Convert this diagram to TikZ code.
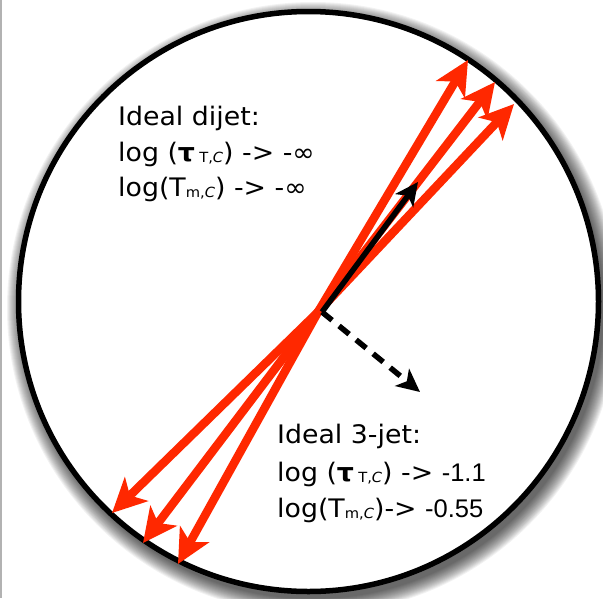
\documentclass[tikz,border=0pt]{standalone}
\usepackage{fontspec}
\setmainfont{DejaVu Sans}[FakeStretch=1.05]
\newfontfamily\helv{Liberation Sans}
\usetikzlibrary{arrows.meta}
\definecolor{jetred}{RGB}{255,40,0}
\tikzset{
  jet/.style={draw=jetred, line width=8.5pt, -{Stealth[length=34pt,width=33pt,inset=9pt]}},
  axis/.style={draw=black, line width=5.5pt, -{Stealth[length=23pt,width=22pt,inset=6pt]}},
  lbl/.style={anchor=base west, inner sep=0pt, font=\fontsize{25.5}{30}\selectfont},
}
\newcommand{\subsc}[1]{\raisebox{-1.5pt}{\fontsize{14}{14}\selectfont #1}}
\begin{document}
\begin{tikzpicture}[x=1pt,y=-1pt]
\useasboundingbox (0,0) rectangle (603,598);
\clip (0,0) rectangle (603,598);
\fill[white] (0,0) rectangle (603,598);
\draw[gray!60, line width=1.5pt] (1,0) -- (1,598);
% shadow
\foreach \i in {1,...,16}
  \fill[black, opacity=0.05] (313,308) circle[radius=290+17-\i];
% circle
\fill[white] (308.5,301.5) circle[radius=290];
\draw[black, line width=5.5pt] (308.5,301.5) circle[radius=290];
% jets
\coordinate (o) at (318,312);
\coordinate (u1) at (468,60);
\coordinate (u2) at (495,82);
\coordinate (u3) at (514,104);
\coordinate (d1) at (112,513);
\coordinate (d2) at (143,543);
\coordinate (d3) at (178,564);
\foreach \t in {u1,u2,u3,d1,d2,d3}
  \draw[jet] (o) -- (\t);
\coordinate (b) at (322,312);
\coordinate (bt) at (418,182);
\coordinate (dt) at (420,392);
\draw[axis] (b) -- (bt);
\draw[axis, dash pattern=on 13pt off 9pt] (b) -- (dt);
% texts
\node[lbl] (a1) at (118,125) {Ideal dijet:};
\node[lbl] (a2) at (118,161) {log (\textbf{τ}\,\subsc{T,\textit{C}}) -> -∞};
\node[lbl] (a3) at (118,196) {log(T\subsc{m,\textit{C}}) -> -∞};
\node[lbl] (b1) at (277,443) {Ideal 3-jet:};
\node[lbl] (b2) at (277,481) {log (\textbf{τ}\,\subsc{T,\textit{C}}) -> {\helv -1.1}};
\node[lbl] (b3) at (277,517) {log(T\subsc{m,\textit{C}})-> {\helv -0.55}};
\end{tikzpicture}
\end{document}
